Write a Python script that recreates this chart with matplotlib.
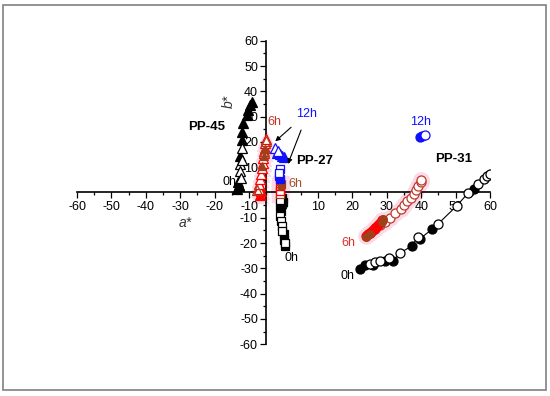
import numpy as np
import matplotlib
matplotlib.use("Agg")
import matplotlib.pyplot as plt
from matplotlib.patches import Rectangle
from matplotlib.ticker import MultipleLocator, FuncFormatter

plt.rcParams['font.family'] = ['Liberation Sans', 'DejaVu Sans']
plt.rcParams['axes.unicode_minus'] = False

RED = "#ff0000"
BROWN = "#a0401a"
BLUE = "#1010ff"
HALO = "#fbd9e6"

# PP-45 (triangles)
pp45_blk_fill_a = [-9.2, -9.7, -10.2, -10.7, -11.7, -12.2, -12.2, -12.6, -13.1, -13.0, -13.5, -12.8]
pp45_blk_fill_b = [35.8, 34.5, 32.5, 30.6, 27.4, 24.1, 20.9, 14.5, 4.1, 2.5, 1.5, 3.0]
pp45_blk_open_a = [-12.2, -12.6, -12.6, -12.4, -12.0]
pp45_blk_open_b = [17.7, 11.2, 8.6, 5.9, 13.0]
pp45_red_open_a = [-7.2, -7.0, -6.8, -6.6, -6.3, -6.1, -5.9, -5.7, -5.5, -5.3, -5.1]
pp45_red_open_b = [1.5, 3.5, 5.5, 7.5, 9.5, 11.5, 13.5, 15.5, 17.5, 19.5, 21.0]
pp45_brn_open_a = [-7.6, -5.2, -5.6]
pp45_brn_open_b = [1.0, 20.5, 16.5]
pp45_brn_fill_a = [-5.6, -5.4, -6.2]
pp45_brn_fill_b = [14.5, 17.0, 10.5]
pp45_red_fill_a = [-6.8, -6.6, -6.9]
pp45_red_fill_b = [-1.0, 0.5, 2.5]
pp45_blu_open_a = [-2.5, -1.6]
pp45_blu_open_b = [17.7, 16.4]
pp45_blu_fill_a = [-1.0, -0.5, -2.0, 0.0]
pp45_blu_fill_b = [15.2, 14.5, 15.8, 14.2]

# PP-27 (squares)
pp27_blk_fill_a = [-0.1, -1.0, -0.8, 0.0, 0.2, 0.5, -0.5]
pp27_blk_fill_b = [-3.6, -5.7, -7.5, -16.6, -18.6, -21.2, -2.0]
pp27_blk_open_a = [-1.0, -1.0, -0.8, -0.5, -0.3, 0.3]
pp27_blk_open_b = [-3.0, -9.4, -11.4, -13.3, -15.3, -19.9]
pp27_brn_open_a = [-0.8, -1.0, -1.0]
pp27_brn_open_b = [3.5, 1.5, -0.5]
pp27_red_open_a = [-1.0, -0.9]
pp27_red_open_b = [2.5, 0.5]
pp27_brn_fill_a = [-0.8]
pp27_brn_fill_b = [2.7]
pp27_blu_open_a = [-1.0, -1.2]
pp27_blu_open_b = [9.3, 7.7]
pp27_blu_fill_a = [-1.2, -1.1]
pp27_blu_fill_b = [6.6, 5.3]

# PP-31 (circles)
pp31_blk_fill_a = [22.2, 23.7, 26.0, 29.5, 31.9, 37.3, 39.7, 43.1, 55.2]
pp31_blk_fill_b = [-30.1, -28.8, -28.5, -27.0, -26.9, -21.1, -18.2, -14.6, 1.2]
pp31_blk_open_a = [25.1, 26.6, 28.1, 30.5, 33.9, 39.0, 45.0, 50.3, 53.7, 56.6, 58.1, 59.1, 60.0]
pp31_blk_open_b = [-28.2, -27.5, -26.9, -26.0, -23.9, -17.6, -12.3, -5.3, -0.1, 3.5, 5.4, 6.7, 7.4]
pp31_red_open_a = [26.5, 28.0, 29.5, 31.0, 32.5, 34.0, 35.0, 36.0, 37.0, 37.8, 38.5, 39.2, 39.8, 40.0]
pp31_red_open_b = [-14.5, -13.0, -11.5, -10.0, -8.0, -6.5, -5.0, -3.5, -2.0, -0.5, 1.0, 2.5, 4.0, 5.0]
pp31_red_fill_a = [24.0, 24.5, 25.0, 25.5, 26.0, 26.5, 27.0, 27.5, 28.0, 28.5]
pp31_red_fill_b = [-17.0, -16.5, -16.0, -15.5, -15.0, -14.0, -13.5, -13.0, -12.0, -11.0]
pp31_brn_fill_a = [24.0, 25.0, 28.5, 29.0]
pp31_brn_fill_b = [-17.5, -16.5, -11.5, -10.5]
pp31_blu_fill_a = [39.7, 40.3]
pp31_blu_fill_b = [22.0, 22.2]
pp31_blu_open_a = [41.1]
pp31_blu_open_b = [22.6]

fig = plt.figure(figsize=(5.5, 3.96), dpi=100)
fig.patches.append(Rectangle((0.006, 0.015), 0.987, 0.972, transform=fig.transFigure,
                             fill=False, edgecolor="#808080", linewidth=1.2))
ax = fig.add_axes([0.14, 0.1306, 0.751, 0.7666])
ax.set_xlim(-60, 60)
ax.set_ylim(-60, 60)

def pts(a, b, marker, fc, ec, ms, z=3):
    ax.plot(a, b, linestyle="none", marker=marker, markerfacecolor=fc,
            markeredgecolor=ec, markersize=ms, markeredgewidth=0.9, zorder=z)

# pink halos behind red series
for a, b, m in [(pp45_red_open_a + pp45_red_fill_a, pp45_red_open_b + pp45_red_fill_b, "^"),
                (pp27_red_open_a + pp27_brn_open_a, pp27_red_open_b + pp27_brn_open_b, "s"),
                (pp31_red_open_a + pp31_red_fill_a, pp31_red_open_b + pp31_red_fill_b, "o")]:
    ax.plot(a, b, linestyle="none", marker=m, markersize=11, color=HALO, zorder=1)

# PP-45
pts(pp45_blk_fill_a, pp45_blk_fill_b, "^", "black", "black", 6.5)
pts(pp45_blk_open_a, pp45_blk_open_b, "^", "white", "black", 6.5)
pts(pp45_red_fill_a, pp45_red_fill_b, "^", RED, RED, 6.5)
pts(pp45_red_open_a, pp45_red_open_b, "^", "white", RED, 6.5)
pts(pp45_brn_open_a, pp45_brn_open_b, "^", "none", BROWN, 6.5)
pts(pp45_brn_fill_a, pp45_brn_fill_b, "^", BROWN, BROWN, 5.5)
pts(pp45_blu_fill_a, pp45_blu_fill_b, "^", BLUE, BLUE, 6.5)
pts(pp45_blu_open_a, pp45_blu_open_b, "^", "white", BLUE, 6.5)

# PP-27
pts(pp27_blk_fill_a, pp27_blk_fill_b, "s", "black", "black", 5.5)
pts(pp27_blk_open_a, pp27_blk_open_b, "s", "white", "black", 5.5)
pts(pp27_brn_open_a, pp27_brn_open_b, "s", "white", BROWN, 5.5)
pts(pp27_red_open_a, pp27_red_open_b, "s", "none", RED, 5.5)
pts(pp27_brn_fill_a, pp27_brn_fill_b, "s", BROWN, BROWN, 4.5)
pts(pp27_blu_fill_a, pp27_blu_fill_b, "s", BLUE, BLUE, 5.5)
pts(pp27_blu_open_a, pp27_blu_open_b, "s", "white", BLUE, 5.5)

# PP-31
line_a = np.array(pp31_blk_fill_a + pp31_blk_open_a)
line_b = np.array(pp31_blk_fill_b + pp31_blk_open_b)
order = np.argsort(line_a)
ax.plot(line_a[order], line_b[order], color="black", linewidth=0.8, zorder=2)
pts(pp31_blk_fill_a, pp31_blk_fill_b, "o", "black", "black", 6.5)
pts(pp31_blk_open_a, pp31_blk_open_b, "o", "white", "black", 6.5)
pts(pp31_red_open_a, pp31_red_open_b, "o", "white", "#c0392b", 6.5)
pts(pp31_red_fill_a, pp31_red_fill_b, "o", RED, RED, 6.5)
pts(pp31_brn_fill_a, pp31_brn_fill_b, "o", BROWN, BROWN, 5.5)
pts(pp31_blu_fill_a, pp31_blu_fill_b, "o", BLUE, BLUE, 6.5)
pts(pp31_blu_open_a, pp31_blu_open_b, "o", "white", BLUE, 6.5)

# axes through the plot
for s in ["top", "right"]:
    ax.spines[s].set_visible(False)
ax.spines["bottom"].set_position(("data", 0))
ax.spines["left"].set_position(("data", -5))
ax.spines["bottom"].set_linewidth(1.2)
ax.spines["left"].set_linewidth(1.2)
ax.patch.set_visible(False)
ax.xaxis.set_major_locator(MultipleLocator(10))
ax.xaxis.set_minor_locator(MultipleLocator(5))
ax.yaxis.set_major_locator(MultipleLocator(10))
ax.yaxis.set_minor_locator(MultipleLocator(5))
ax.yaxis.set_major_formatter(FuncFormatter(lambda v, p: "" if v == 0 else "%d" % v))
ax.tick_params(which="major", direction="out", length=4, width=0.9, labelsize=9, pad=2)
ax.tick_params(which="minor", direction="out", length=2.5, width=0.9)

ax.text(-28.5, -12, "a*", fontsize=10, style="italic", color="#333333", ha="center", va="center")
ax.text(-16, 36, "b*", fontsize=10, style="italic", color="#333333", rotation=90, ha="center", va="center")

bold = dict(fontsize=9.5, fontweight="bold", ha="center", va="center")
ax.text(-22.2, 26, "PP-45", **bold)
ax.text(9.0, 12.3, "PP-27", **bold)
ax.text(49.3, 13.4, "PP-31", **bold)

lab = dict(fontsize=9, ha="center", va="center")
ax.text(-15.8, 4.3, "0h", color="black", **lab)
ax.text(2.2, -25.7, "0h", color="black", **lab)
ax.text(18.5, -33.0, "0h", color="black", **lab)
ax.text(-2.6, 27.7, "6h", color="#c0392b", **lab)
ax.text(3.4, 3.2, "6h", color="#a0522d", **lab)
ax.text(18.8, -19.8, "6h", color="#e03030", **lab)
ax.text(6.6, 31.0, "12h", color=BLUE, **lab)
ax.text(39.7, 28.0, "12h", color=BLUE, **lab)

arrow = dict(arrowstyle="-|>", color="black", lw=0.8, mutation_scale=7)
ax.annotate("", xy=(-3.0, 19.5), xytext=(2.8, 26.5), arrowprops=arrow)
ax.annotate("", xy=(1.0, 10.3), xytext=(5.4, 25.7), arrowprops=arrow)

fig.savefig("out.png", dpi=100)
